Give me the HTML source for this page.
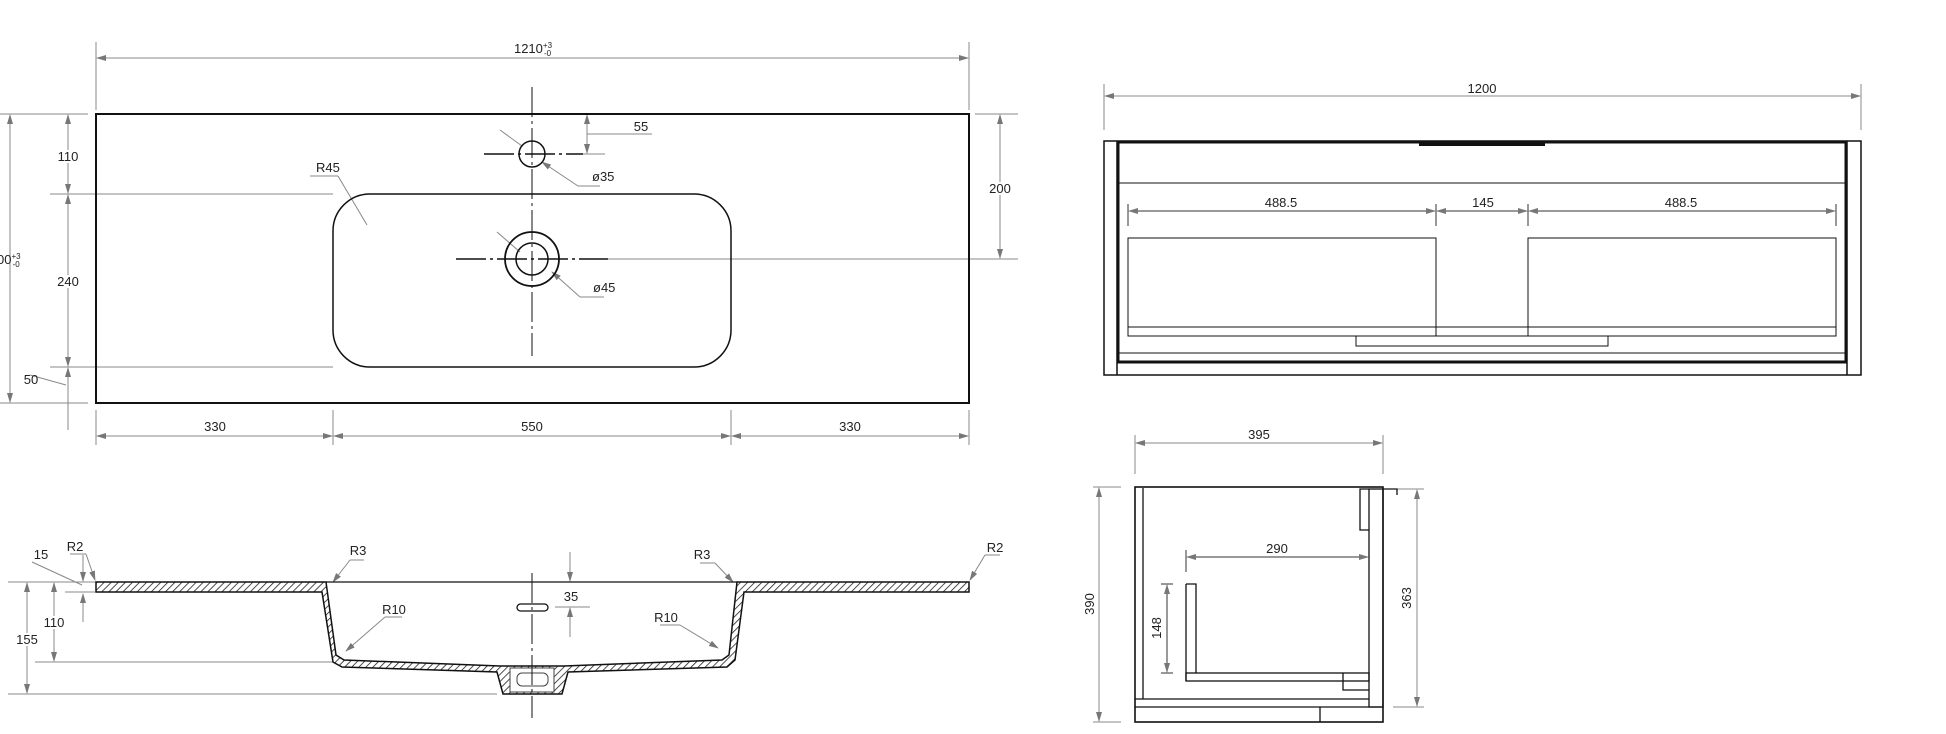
<!DOCTYPE html>
<html><head><meta charset="utf-8"><style>
html,body{margin:0;padding:0;background:#fff;}
svg{display:block;}
text{font-family:"Liberation Sans Narrow","Liberation Sans",sans-serif;font-size:13px;fill:#222;}
</style></head><body>
<svg width="1946" height="734" viewBox="0 0 1946 734" xmlns="http://www.w3.org/2000/svg">
<defs>
<pattern id="h" width="5" height="5" patternUnits="userSpaceOnUse" patternTransform="rotate(45)">
<rect width="5" height="5" fill="#fff"/><line x1="0" y1="0" x2="0" y2="5" stroke="#222" stroke-width="1.6"/></pattern>
<marker id="a" markerWidth="10" markerHeight="6" refX="9" refY="3" orient="auto-start-reverse" markerUnits="userSpaceOnUse"><path d="M0,0 L10,3 L0,6z" fill="#777"/></marker>
</defs>
<g stroke="#888" stroke-width="1" fill="none">
<!-- top view dims -->
<line x1="96" y1="42" x2="96" y2="110"/><line x1="969" y1="42" x2="969" y2="110"/>
<line x1="97" y1="58" x2="968" y2="58" marker-start="url(#a)" marker-end="url(#a)"/>
<line x1="0" y1="114" x2="88" y2="114"/><line x1="0" y1="403" x2="88" y2="403"/>
<line x1="10" y1="115" x2="10" y2="402" marker-start="url(#a)" marker-end="url(#a)"/>
<line x1="50" y1="194" x2="333" y2="194"/><line x1="50" y1="367" x2="333" y2="367"/>
<line x1="68" y1="115" x2="68" y2="193" marker-start="url(#a)" marker-end="url(#a)"/>
<line x1="68" y1="195" x2="68" y2="366" marker-start="url(#a)" marker-end="url(#a)"/>
<line x1="68" y1="368" x2="68" y2="430" marker-start="url(#a)"/>
<line x1="30" y1="375" x2="66" y2="385"/>
<line x1="96" y1="410" x2="96" y2="445"/><line x1="333" y1="410" x2="333" y2="445"/><line x1="731" y1="410" x2="731" y2="445"/><line x1="969" y1="410" x2="969" y2="445"/>
<line x1="97" y1="436" x2="332" y2="436" marker-start="url(#a)" marker-end="url(#a)"/>
<line x1="334" y1="436" x2="730" y2="436" marker-start="url(#a)" marker-end="url(#a)"/>
<line x1="732" y1="436" x2="968" y2="436" marker-start="url(#a)" marker-end="url(#a)"/>
<line x1="975" y1="114" x2="1018" y2="114"/><line x1="608" y1="259" x2="1018" y2="259"/>
<line x1="1000" y1="115" x2="1000" y2="258" marker-start="url(#a)" marker-end="url(#a)"/>
<line x1="583" y1="154" x2="605" y2="154"/>
<line x1="587" y1="115" x2="587" y2="153" marker-start="url(#a)" marker-end="url(#a)"/>
<line x1="587" y1="134" x2="652" y2="134"/>
<line x1="500" y1="130" x2="522" y2="146"/><line x1="542" y1="162" x2="578" y2="186" marker-start="url(#a)"/><line x1="578" y1="186" x2="600" y2="186"/>
<line x1="497" y1="232" x2="520" y2="252"/><line x1="552" y1="272" x2="580" y2="297" marker-start="url(#a)"/><line x1="580" y1="297" x2="604" y2="297"/>
<line x1="310" y1="176" x2="338" y2="176"/><line x1="338" y1="176" x2="367" y2="225"/>
<!-- section dims -->
<line x1="8" y1="582" x2="96" y2="582"/><line x1="35" y1="662" x2="340" y2="662"/><line x1="8" y1="694" x2="497" y2="694"/>
<line x1="27" y1="583" x2="27" y2="693" marker-start="url(#a)" marker-end="url(#a)"/>
<line x1="54" y1="583" x2="54" y2="661" marker-start="url(#a)" marker-end="url(#a)"/>
<line x1="83" y1="555" x2="83" y2="581" marker-end="url(#a)"/><line x1="83" y1="594" x2="83" y2="622" marker-start="url(#a)"/>
<line x1="65" y1="592" x2="95" y2="592"/>
<line x1="32" y1="562" x2="82" y2="585"/>
<line x1="70" y1="554" x2="86" y2="554"/><line x1="86" y1="554" x2="95" y2="580" marker-end="url(#a)"/>
<line x1="350" y1="560" x2="364" y2="560"/><line x1="350" y1="560" x2="333" y2="582" marker-end="url(#a)"/>
<line x1="385" y1="617" x2="402" y2="617"/><line x1="385" y1="617" x2="346" y2="651" marker-end="url(#a)"/>
<line x1="700" y1="563" x2="715" y2="563"/><line x1="715" y1="563" x2="733" y2="582" marker-end="url(#a)"/>
<line x1="660" y1="625" x2="680" y2="625"/><line x1="680" y1="625" x2="718" y2="648" marker-end="url(#a)"/>
<line x1="985" y1="555" x2="1000" y2="555"/><line x1="985" y1="555" x2="970" y2="580" marker-end="url(#a)"/>
<line x1="570" y1="552" x2="570" y2="581" marker-end="url(#a)"/><line x1="570" y1="608" x2="570" y2="637" marker-start="url(#a)"/>
<line x1="555" y1="607" x2="590" y2="607"/><line x1="560" y1="582" x2="590" y2="582"/>
<!-- front view dims -->
<line x1="1104" y1="84" x2="1104" y2="130"/><line x1="1861" y1="84" x2="1861" y2="130"/>
<line x1="1105" y1="96" x2="1860" y2="96" marker-start="url(#a)" marker-end="url(#a)"/>
<!-- side dims -->
<line x1="1135" y1="435" x2="1135" y2="474"/><line x1="1383" y1="435" x2="1383" y2="474"/>
<line x1="1136" y1="443" x2="1382" y2="443" marker-start="url(#a)" marker-end="url(#a)"/>
<line x1="1093" y1="487" x2="1121" y2="487"/><line x1="1093" y1="722" x2="1121" y2="722"/>
<line x1="1099" y1="488" x2="1099" y2="721" marker-start="url(#a)" marker-end="url(#a)"/>
<line x1="1393" y1="489" x2="1424" y2="489"/><line x1="1393" y1="707" x2="1424" y2="707"/>
<line x1="1417" y1="490" x2="1417" y2="706" marker-start="url(#a)" marker-end="url(#a)"/>
</g>
<g stroke="#333" stroke-width="1" fill="none">
<line x1="1186" y1="550" x2="1186" y2="572"/>
<line x1="1187" y1="557" x2="1368" y2="557" marker-start="url(#a)" marker-end="url(#a)"/>
<line x1="1161" y1="584" x2="1173" y2="584"/><line x1="1161" y1="673" x2="1173" y2="673"/>
<line x1="1167" y1="585" x2="1167" y2="672" marker-start="url(#a)" marker-end="url(#a)"/>
<line x1="1128" y1="204" x2="1128" y2="226"/><line x1="1436" y1="204" x2="1436" y2="226"/><line x1="1528" y1="204" x2="1528" y2="226"/><line x1="1836" y1="204" x2="1836" y2="226"/>
<line x1="1129" y1="211" x2="1435" y2="211" marker-start="url(#a)" marker-end="url(#a)"/>
<line x1="1437" y1="211" x2="1527" y2="211" marker-start="url(#a)" marker-end="url(#a)"/>
<line x1="1529" y1="211" x2="1835" y2="211" marker-start="url(#a)" marker-end="url(#a)"/>
</g>
<!-- top view outlines -->
<g stroke="#111" fill="none">
<rect x="96" y="114" width="873" height="289" stroke-width="2"/>
<rect x="333" y="194" width="398" height="173" rx="37" stroke-width="1.5"/>
<circle cx="532" cy="154" r="13" stroke-width="1.5"/>
<circle cx="532" cy="259" r="27" stroke-width="1.8"/>
<circle cx="532" cy="259" r="16" stroke-width="1.5"/>
<line x1="532" y1="87" x2="532" y2="356" stroke-dasharray="30,4,3,4"/>
<line x1="484" y1="154" x2="583" y2="154" stroke-width="1.5" stroke-dasharray="30,4,3,4"/>
<line x1="456" y1="259" x2="608" y2="259" stroke-width="1.5" stroke-dasharray="30,4,3,4"/>
</g>
<!-- section -->
<path d="M96,582 L326,582 L336,655 L344,660 L500,666 L564,666 L722,660 L729,655 L737,582 L969,582 L969,592 L744,592 L735,660 L727,667 L568,672 L562,694 L503,694 L497,672 L342,667 L333,662 L322,592 L96,592 Z" fill="url(#h)" stroke="#111" stroke-width="1.5"/>
<line x1="326" y1="582" x2="737" y2="582" stroke="#111" stroke-width="1.2"/>
<rect x="510" y="668" width="44" height="24" fill="#fff" stroke="#444"/>
<rect x="517" y="673" width="31" height="13" rx="5" fill="#fff" stroke="#444"/>
<rect x="517" y="604" width="31" height="7" rx="3.5" fill="#fff" stroke="#111" stroke-width="1.3"/>
<line x1="532" y1="573" x2="532" y2="718" stroke="#111" stroke-dasharray="30,4,3,4"/>
<!-- front view -->
<g stroke="#111" fill="none">
<rect x="1104" y="141" width="757" height="234" stroke-width="1.5"/>
<line x1="1117" y1="141" x2="1117" y2="375" stroke-width="1.5"/>
<line x1="1847" y1="141" x2="1847" y2="375" stroke-width="1.5"/>
<rect x="1118" y="142" width="728" height="220" stroke-width="3"/>
<line x1="1118" y1="183" x2="1846" y2="183"/>
<rect x="1128" y="238" width="308" height="98"/>
<rect x="1528" y="238" width="308" height="98"/>
<rect x="1128" y="327" width="708" height="9"/>
<rect x="1356" y="336" width="252" height="10"/>
<line x1="1118" y1="353" x2="1846" y2="353"/>
</g>
<rect x="1419" y="141" width="126" height="5" fill="#111"/>
<!-- side view -->
<g stroke="#111" fill="none" stroke-width="1.3">
<rect x="1135" y="487" width="248" height="235" stroke-width="1.6"/>
<line x1="1143" y1="488" x2="1143" y2="699"/>
<rect x="1369" y="489" width="14" height="218"/>
<polyline points="1369,489 1360,489 1360,530 1369,530"/>
<polyline points="1383,489 1397,489 1397,495"/>
<line x1="1135" y1="699" x2="1369" y2="699"/>
<line x1="1135" y1="707" x2="1383" y2="707"/>
<line x1="1320" y1="707" x2="1320" y2="722"/>
<polyline points="1186,584 1196,584 1196,673"/>
<line x1="1186" y1="584" x2="1186" y2="681"/>
<rect x="1186" y="673" width="183" height="8"/>
<polyline points="1343,681 1343,690 1369,690"/>
<line x1="1343" y1="673" x2="1343" y2="681"/>
</g>
<!-- labels -->
<text x="533" y="53" text-anchor="middle">1210<tspan font-size="8" dy="-5">+3</tspan><tspan font-size="8" dx="-8" dy="8">-0</tspan></text>
<text x="-3" y="264">00<tspan font-size="8" dy="-5">+3</tspan><tspan font-size="8" dx="-8" dy="8">-0</tspan></text>
<text x="68" y="161" text-anchor="middle" fill="#222" style="paint-order:stroke" stroke="#fff" stroke-width="4">110</text>
<text x="68" y="286" text-anchor="middle" style="paint-order:stroke" stroke="#fff" stroke-width="4">240</text>
<text x="31" y="384" text-anchor="middle">50</text>
<text x="215" y="431" text-anchor="middle">330</text>
<text x="532" y="431" text-anchor="middle">550</text>
<text x="850" y="431" text-anchor="middle">330</text>
<text x="1000" y="193" text-anchor="middle" style="paint-order:stroke" stroke="#fff" stroke-width="4">200</text>
<text x="641" y="131" text-anchor="middle">55</text>
<text x="592" y="181">ø35</text>
<text x="593" y="292">ø45</text>
<text x="316" y="172">R45</text>
<text x="27" y="644" text-anchor="middle" style="paint-order:stroke" stroke="#fff" stroke-width="4">155</text>
<text x="54" y="627" text-anchor="middle" style="paint-order:stroke" stroke="#fff" stroke-width="4">110</text>
<text x="41" y="559" text-anchor="middle">15</text>
<text x="75" y="551" text-anchor="middle">R2</text>
<text x="358" y="555" text-anchor="middle">R3</text>
<text x="394" y="614" text-anchor="middle">R10</text>
<text x="702" y="559" text-anchor="middle">R3</text>
<text x="666" y="622" text-anchor="middle">R10</text>
<text x="995" y="552" text-anchor="middle">R2</text>
<text x="571" y="601" text-anchor="middle">35</text>
<text x="1482" y="93" text-anchor="middle">1200</text>
<text x="1281" y="207" text-anchor="middle">488.5</text>
<text x="1483" y="207" text-anchor="middle">145</text>
<text x="1681" y="207" text-anchor="middle">488.5</text>
<text x="1259" y="439" text-anchor="middle">395</text>
<text x="1277" y="553" text-anchor="middle">290</text>
<text transform="translate(1161,628) rotate(-90)" text-anchor="middle">148</text>
<text transform="translate(1094,604) rotate(-90)" text-anchor="middle">390</text>
<text transform="translate(1411,598) rotate(-90)" text-anchor="middle">363</text>
</svg>
</body></html>
